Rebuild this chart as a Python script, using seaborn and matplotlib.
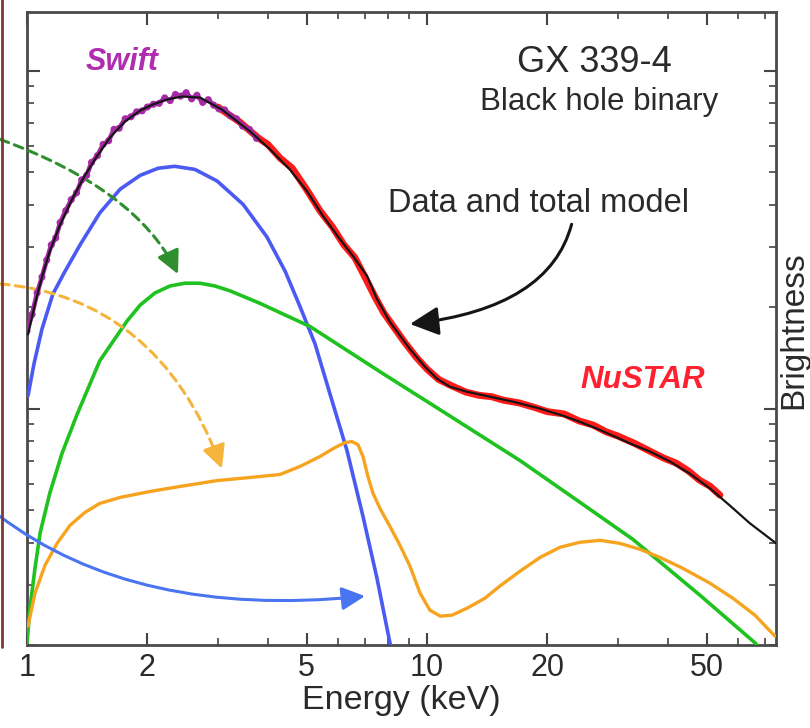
import matplotlib
matplotlib.use('Agg')
import matplotlib.pyplot as plt
from matplotlib.lines import Line2D
from matplotlib.ticker import FixedLocator, NullFormatter
import numpy as np
import pandas as pd
import seaborn as sns

sns.set_style('ticks')
plt.rcParams['font.family'] = ['Liberation Sans', 'DejaVu Sans']

# ---------------- data ----------------
model_energy = [1.006, 1.047, 1.09, 1.14, 1.209, 1.296, 1.388, 1.496, 1.613, 1.758, 1.92, 2.065,
                2.239, 2.44, 2.707, 3.07, 3.61, 4.05, 4.54, 5.01, 5.50, 6.06, 6.53, 7.08, 7.50,
                8.08, 9.07, 9.89, 10.6, 11.42, 12.6, 14.37, 16.4, 19.2, 21.9, 24.1, 26.6, 29.5,
                32.7, 36.1, 40.5, 45.4, 51.0, 57.2, 64.2, 74.6]
model_flux = [1.66, 2.04, 2.45, 2.92, 3.49, 4.16, 4.84, 5.58, 6.34, 7.07, 7.62, 7.94,
              8.21, 8.38, 8.32, 7.67, 6.61, 5.85, 5.10, 4.40, 3.71, 3.17, 2.83, 2.47, 2.11,
              1.805, 1.50, 1.33, 1.226, 1.161, 1.122, 1.085, 1.049, 1.0, 0.953, 0.915, 0.873, 0.827,
              0.783, 0.747, 0.698, 0.643, 0.581, 0.517, 0.458, 0.400]

disk_energy = [1.006, 1.041, 1.09, 1.16, 1.245, 1.357, 1.52, 1.71, 1.92, 2.126, 2.34, 2.63,
               2.99, 3.47, 3.98, 4.42, 4.81, 5.25, 5.72, 6.31, 6.92, 7.50, 8.08, 8.4]
disk_flux = [1.093, 1.357, 1.72, 2.18, 2.55, 3.05, 3.79, 4.46, 4.90, 5.14, 5.21, 5.10,
             4.71, 4.02, 3.22, 2.55, 2.01, 1.555, 1.107, 0.752, 0.480, 0.315, 0.203, 0.16]

corona_energy = [1.0, 1.017, 1.047, 1.078, 1.14, 1.223, 1.33, 1.52, 1.78, 1.92, 2.089, 2.278,
                 2.483, 2.707, 2.951, 3.22, 3.82, 5.10, 7.76, 10.2, 17.1, 22.4, 32.7, 48.1,
                 66.1, 72.0]
corona_flux = [0.203, 0.257, 0.337, 0.428, 0.562, 0.737, 0.953, 1.385, 1.818, 2.027, 2.199, 2.306,
               2.35, 2.35, 2.306, 2.23, 2.05, 1.75, 1.27, 1.035, 0.702, 0.562, 0.411, 0.281,
               0.203, 0.18]

refl_energy = [1.006, 1.047, 1.109, 1.189, 1.281, 1.396, 1.52, 1.708, 1.862, 2.03, 2.41, 2.99,
               3.61, 4.29, 4.81, 5.40, 5.89, 6.24, 6.49, 6.72, 6.92, 7.12, 7.33, 7.63, 8.08,
               8.56, 9.07, 9.61, 10.17, 10.8, 11.55, 12.6, 13.96, 15.2, 17.08, 19.2, 21.5, 24.1,
               27.1, 30.4, 34.1, 38.2, 43.6, 51.0, 58.2, 66.1, 74.1]
refl_flux = [0.2275, 0.2847, 0.344, 0.3995, 0.4517, 0.4934, 0.5245, 0.5463, 0.5575, 0.569, 0.5886,
             0.613, 0.6258, 0.6387, 0.6744, 0.7218, 0.7673, 0.7937, 0.7992, 0.783, 0.7218, 0.63,
             0.562, 0.507, 0.4486, 0.3944, 0.342, 0.2847, 0.2535, 0.2434, 0.245, 0.257, 0.275,
             0.2985, 0.3305, 0.3634, 0.389, 0.4025, 0.408, 0.3995, 0.3837, 0.3634, 0.3373,
             0.3046, 0.275, 0.245, 0.2126]

swift_energy = [1.0, 1.03, 1.06, 1.09, 1.12, 1.15, 1.18, 1.21, 1.25, 1.29, 1.33, 1.37, 1.41,
                1.45, 1.5, 1.55, 1.6, 1.65, 1.7, 1.76, 1.82, 1.88, 1.94, 2.0, 2.07, 2.14, 2.21,
                2.28, 2.35, 2.42, 2.5, 2.58, 2.66, 2.75, 2.84, 2.93, 3.02, 3.12, 3.22, 3.34,
                3.46, 3.6, 3.75]
swift_flux = [1.7, 1.9, 2.2, 2.45, 2.75, 3.05, 3.2, 3.55, 3.85, 4.15, 4.35, 4.75, 4.9,
              5.35, 5.6, 6.05, 6.2, 6.7, 6.75, 7.2, 7.3, 7.55, 7.6, 7.8, 7.95, 8.0, 8.3,
              8.15, 8.5, 8.4, 8.6, 8.25, 8.45, 8.05, 8.2, 7.9, 7.7, 7.65, 7.35, 7.2,
              6.85, 6.7, 6.3]

nustar_energy = [3.0, 3.2, 3.4, 3.6, 3.8, 4.0, 4.3, 4.6, 5.0, 5.4, 5.8, 6.2, 6.6, 7.0, 7.4, 7.8,
                 8.3, 8.8, 9.4, 10.0, 10.7, 11.5, 12.5, 13.5, 14.5, 15.5, 17, 18.5, 20, 22, 24,
                 26, 28, 30, 33, 36, 39, 42, 45, 48, 51, 54]
nustar_flux = [7.8, 7.4, 7.05, 6.65, 6.3, 6.05, 5.5, 5.15, 4.45, 3.85, 3.45, 3.05, 2.8, 2.45, 2.15, 1.92,
               1.73, 1.57, 1.42, 1.31, 1.22, 1.17, 1.12, 1.095, 1.085, 1.06, 1.04, 1.01, 0.98, 0.965, 0.92,
               0.895, 0.855, 0.83, 0.79, 0.75, 0.715, 0.69, 0.655, 0.615, 0.59, 0.555]

x_ticks = [1, 2, 5, 10, 20, 50]
x_tick_labels = ['1', '2', '5', '10', '20', '50']
x_minor_ticks = [3, 4, 6, 7, 8, 9, 30, 40, 60, 70]

# ---------------- figure ----------------
W, H = 810, 728
fig = plt.figure(figsize=(W / 100, H / 100), dpi=100)
ax = fig.add_axes([27 / W, 1 - 645 / H, (776 - 27) / W, (645 - 12) / H])
ax.set_xscale('log')
ax.set_yscale('log')

def line(xv, yv, color, lw, z):
    df = pd.DataFrame({'E': xv, 'F': yv})
    sns.lineplot(data=df, x='E', y='F', ax=ax, color=color, lw=lw, estimator=None,
                 sort=False, zorder=z, solid_capstyle='round', solid_joinstyle='round')

line(disk_energy, disk_flux, '#4a5af2', 2.6, 3)
line(corona_energy, corona_flux, '#1fc21f', 2.6, 3)
line(refl_energy, refl_flux, '#f6a420', 2.4, 3)

# data
line(nustar_energy, nustar_flux, '#ff1a1a', 5.0, 4)
sns.scatterplot(x=nustar_energy, y=nustar_flux, ax=ax, color='#ff1a1a', s=16,
                edgecolor='none', zorder=4)
line(swift_energy, swift_flux, '#a62aa6', 3.4, 4)
sns.scatterplot(x=swift_energy, y=swift_flux, ax=ax, color='#a62aa6', s=26,
                edgecolor='none', zorder=4)

line(model_energy, model_flux, '#151515', 1.6, 5)

ax.set_xlim(1, 74.6)
ax.set_ylim(0.2, 14.9)

# ticks
ax.xaxis.set_major_locator(FixedLocator(x_ticks))
ax.set_xticklabels(x_tick_labels)
ax.xaxis.set_minor_locator(FixedLocator(x_minor_ticks))
ax.xaxis.set_minor_formatter(NullFormatter())
ax.yaxis.set_major_locator(FixedLocator([1, 10]))
ax.yaxis.set_minor_locator(FixedLocator([0.2, 0.3, 0.4, 0.5, 0.6, 0.7, 0.8, 0.9,
                                         2, 3, 4, 5, 6, 7, 8, 9]))
ax.yaxis.set_major_formatter(NullFormatter())
ax.yaxis.set_minor_formatter(NullFormatter())
ax.tick_params(which='both', direction='in', top=True, right=True, color='#444444')
ax.tick_params(which='major', length=9, width=1.5, labelsize=22, pad=6, labelcolor='#2a2a2a')
ax.tick_params(which='minor', length=5, width=1.2)
for s in ax.spines.values():
    s.set_color('#4a4a4a')
    s.set_linewidth(2)
ax.set_xlabel('Energy (keV)', fontsize=24.5, color='#2a2a2a', labelpad=1)
ax.set_ylabel('')

# texts
def px(xp, yp):
    return xp / W, 1 - yp / H

fig.text(*px(122, 62), 'Swift', fontsize=22, fontstyle='italic', fontweight='bold',
         color='#b02db0', ha='center', va='center')
fig.text(*px(594, 62), 'GX 339-4', fontsize=26, color='#2a2a2a', ha='center', va='center')
fig.text(*px(599, 102), 'Black hole binary', fontsize=22.5, color='#2a2a2a', ha='center', va='center')
fig.text(*px(538, 203), 'Data and total model', fontsize=23.5, color='#2a2a2a', ha='center', va='center')
fig.text(*px(643, 380), 'NuSTAR', fontsize=22.5, fontstyle='italic', fontweight='bold',
         color='#ff2030', ha='center', va='center')
fig.text(*px(809, 330), 'Brightness', fontsize=24, color='#2a2a2a', rotation=90,
         ha='right', va='center')

# arrows
def arrow(start, tip, color, ls, style, end_angle, lw=2.2, hl=0.7, hw=0.35, ms=20):
    # shaft
    ax.annotate('', xy=tip, xytext=start, xycoords='data', textcoords='data',
                annotation_clip=False,
                arrowprops=dict(arrowstyle='-', color=color, lw=lw, linestyle=ls,
                                connectionstyle=style, shrinkA=0, shrinkB=4))
    # solid head along the end tangent
    a = np.deg2rad(end_angle + 180)
    ax.annotate('', xy=tip, xytext=(4 * np.cos(a), 4 * np.sin(a)), xycoords='data',
                textcoords='offset points', annotation_clip=False,
                arrowprops=dict(arrowstyle=f'-|>,head_length={hl},head_width={hw}',
                                color=color, lw=lw, mutation_scale=ms,
                                shrinkA=0, shrinkB=0))

arrow((0.856, 6.26), (2.385, 2.50), '#2f8f2f', (0, (3, 2)), 'angle3,angleA=-20,angleB=-65', -65)
arrow((0.856, 2.34), (3.07, 0.665), '#f7b43a', (0, (3, 2)), 'angle3,angleA=-5,angleB=-70', -70)
arrow((0.856, 0.48), (7.0, 0.279), '#4a74f0', '-', 'angle3,angleA=-37,angleB=6', 6)
arrow((23.0, 3.51), (9.07, 1.78), '#151515', '-', 'angle3,angleA=-105,angleB=6', 186,
      hl=0.8, hw=0.4, ms=22)

# edge of neighbouring panel
fig.add_artist(Line2D([2 / W, 2 / W], [1 - 647 / H, 1], color='#7a3b2e', lw=2))

fig.savefig('out.png', dpi=100)
